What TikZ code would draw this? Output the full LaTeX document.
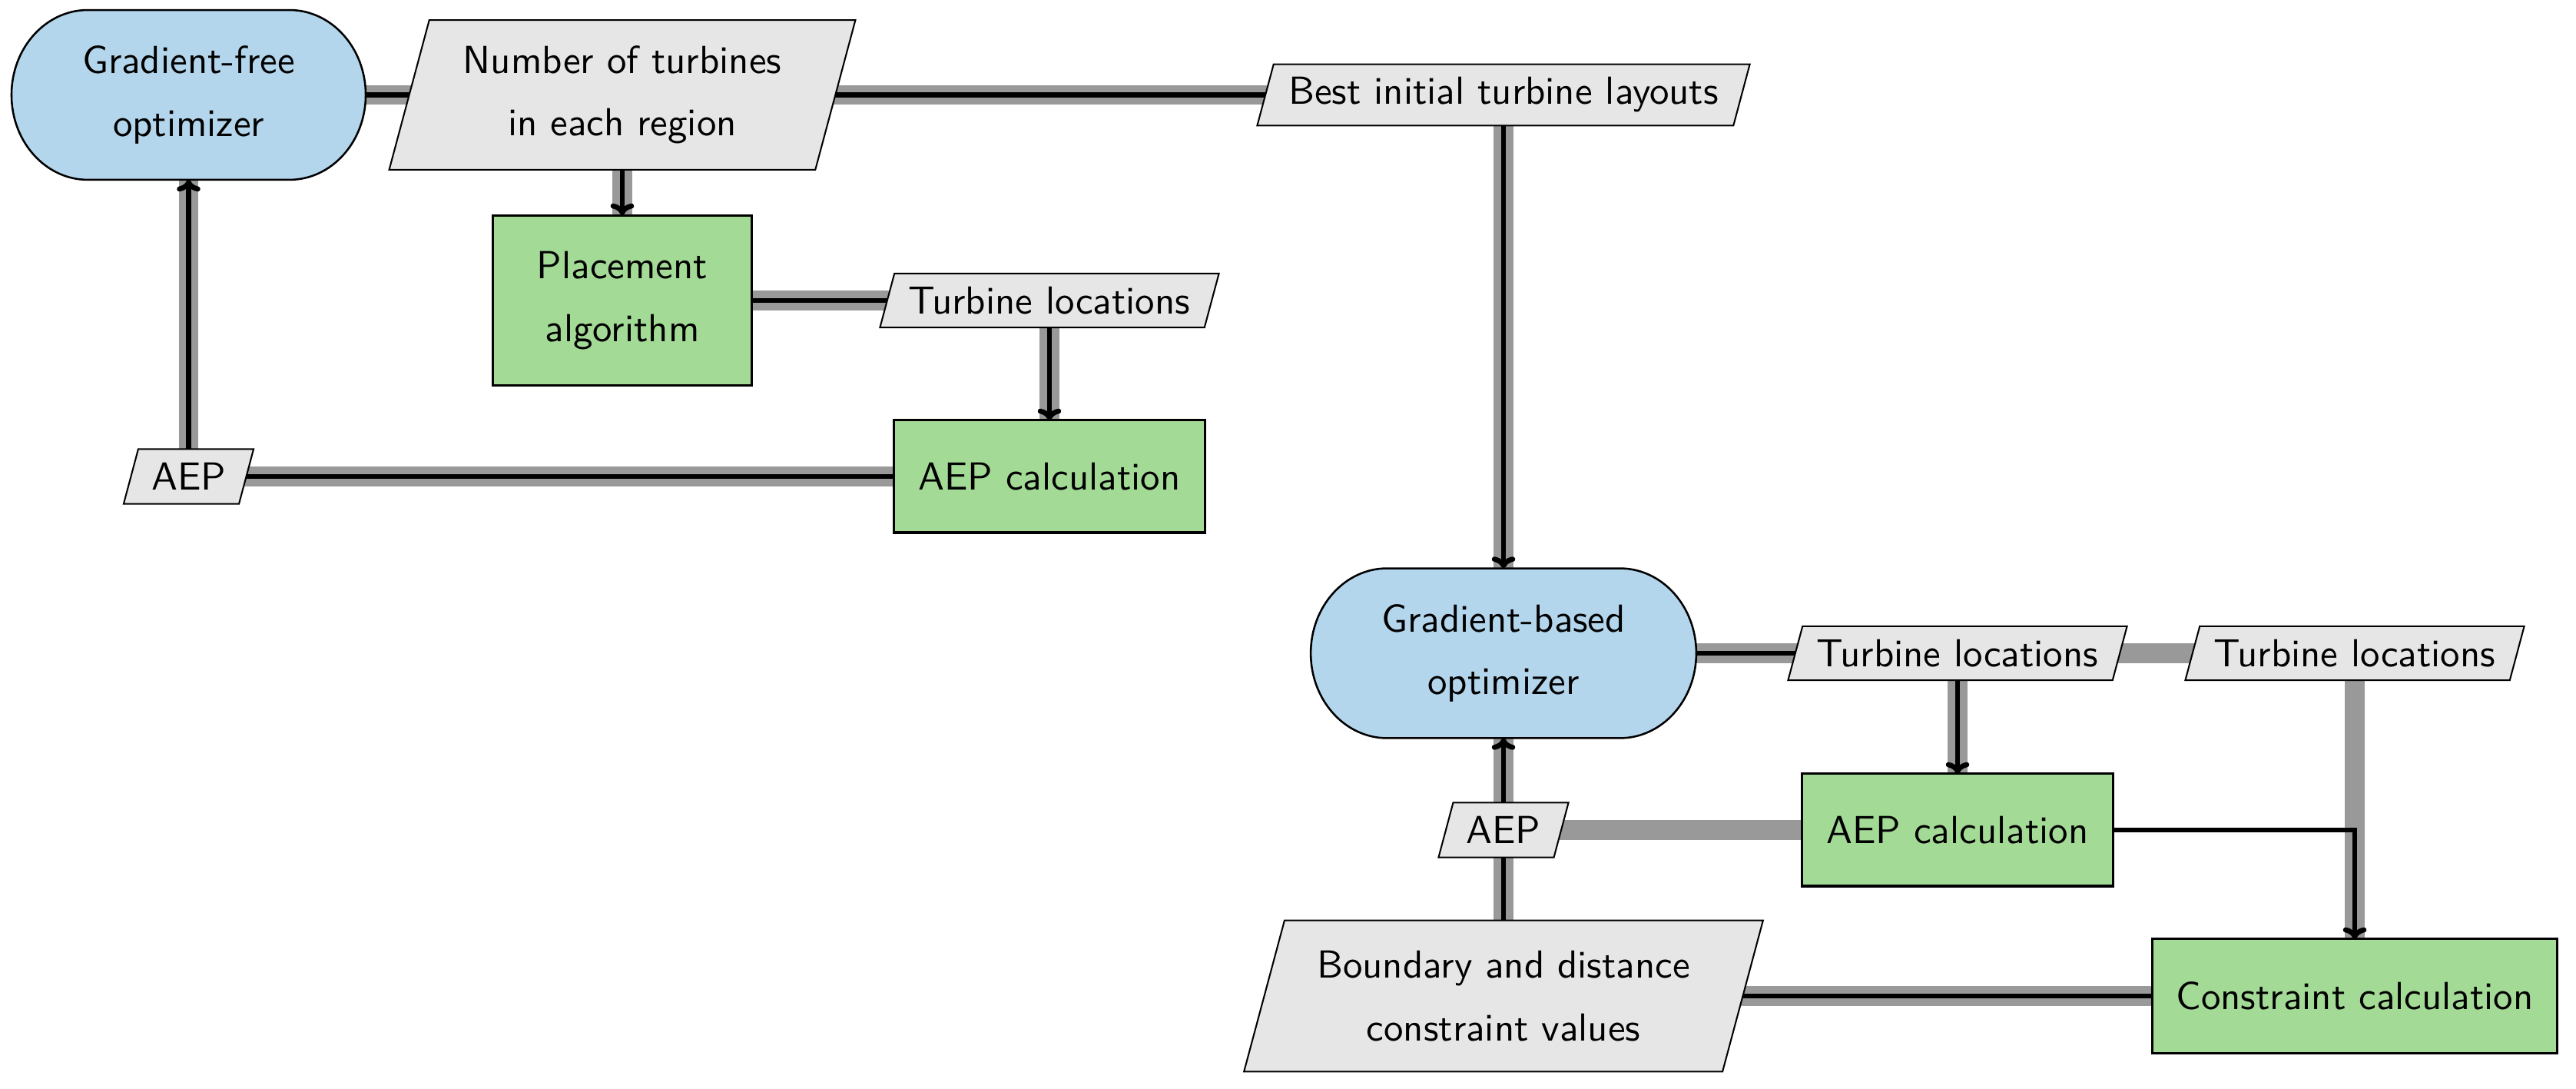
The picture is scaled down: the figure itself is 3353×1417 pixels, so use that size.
\documentclass[tikz,border=0pt]{standalone}
\usetikzlibrary{arrows.meta,calc}
\definecolor{optblue}{RGB}{179,214,236}
\definecolor{fungreen}{RGB}{163,218,150}
\definecolor{datagray}{RGB}{230,230,230}
\definecolor{linegray}{RGB}{153,153,153}
\pgfdeclarelayer{bg}
\pgfdeclarelayer{mid}
\pgfsetlayers{bg,mid,main}
\tikzset{
  funbox/.style={rectangle, draw, line width=0.6pt, fill=fungreen, inner sep=0pt, outer sep=0pt, align=center, font=\sffamily},
  txtbox/.style={rectangle, inner sep=0pt, outer sep=0pt, align=center, font=\sffamily},
  dline/.style={line width=5pt, draw=linegray},
  pline/.style={line width=1.3pt, draw=black},
  parr/.style={pline, -{To[length=3pt,width=6pt]}}
}
\newcommand\optshape[2]{%
  \draw[line width=0.5pt, fill=optblue] ([xshift=#2]#1.north west) -- ([xshift=-#2]#1.north east)
    arc[start angle=90,end angle=-90,x radius=#2,y radius=21.7pt] -- ([xshift=#2]#1.south west)
    arc[start angle=270,end angle=90,x radius=#2,y radius=21.7pt] -- cycle;}
\newcommand\paral[2]{%
  \draw[line width=0.4pt, fill=datagray] ([xshift=-#2]#1.south west) -- ([xshift=#2]#1.north west)
    -- ([xshift=#2]#1.north east) -- ([xshift=-#2]#1.south east) -- cycle;}
\begin{document}
\begin{tikzpicture}[x=0.1965pt,y=-0.1965pt]
\useasboundingbox (0,0) rectangle (3353,1417);
% nodes
\node[txtbox, minimum width=90.6pt, minimum height=43.4pt] (gfopt) at (245.5,123.5) {Gradient-free\\[4pt]optimizer};
\node[txtbox, minimum width=109pt, minimum height=38.3pt] (num) at (810,123.5) {Number of turbines\\[4pt]in each region};
\node[txtbox, minimum width=121.8pt, minimum height=15.7pt] (best) at (1957,123.5) {Best initial turbine layouts};
\node[funbox, minimum width=66.4pt, minimum height=43.6pt] (place) at (810,391) {Placement\\[4pt]algorithm};
\node[txtbox, minimum width=83pt, minimum height=13.8pt] (tl1) at (1366,391) {Turbine locations};
\node[funbox, minimum width=79.6pt, minimum height=28.7pt] (aepc1) at (1366,620) {AEP calculation};
\node[txtbox, minimum width=29.5pt, minimum height=14pt] (aep1) at (245.5,620) {AEP};
\node[txtbox, minimum width=98.6pt, minimum height=43.4pt] (gbopt) at (1957,850) {Gradient-based\\[4pt]optimizer};
\node[txtbox, minimum width=83pt, minimum height=13.8pt] (tl2) at (2548,850) {Turbine locations};
\node[txtbox, minimum width=83pt, minimum height=13.8pt] (tl3) at (3065,850) {Turbine locations};
\node[funbox, minimum width=79.6pt, minimum height=28.7pt] (aepc2) at (2548,1080) {AEP calculation};
\node[txtbox, minimum width=29.5pt, minimum height=14pt] (aep2) at (1957,1080) {AEP};
\node[txtbox, minimum width=122.4pt, minimum height=38.7pt] (bound) at (1957,1296) {Boundary and distance\\[4pt]constraint values};
\node[funbox, minimum width=103.4pt, minimum height=29.1pt] (con) at (3065,1296) {Constraint calculation};
% shapes
\begin{pgfonlayer}{mid}
\optshape{gfopt}{19.5pt}
\optshape{gbopt}{19.5pt}
\paral{num}{5.13pt}
\paral{best}{2.1pt}
\paral{tl1}{1.85pt}
\paral{tl2}{1.85pt}
\paral{tl3}{1.85pt}
\paral{aep1}{1.87pt}
\paral{aep2}{1.87pt}
\paral{bound}{5.19pt}
\end{pgfonlayer}
% connectors
\begin{pgfonlayer}{bg}
\draw[dline] (gfopt.center) -- (num.center);
\draw[dline] (num.center) -- (best.center);
\draw[dline] (num.center) -- (place.center);
\draw[dline] (place.center) -- (tl1.center);
\draw[dline] (tl1.center) -- (aepc1.center);
\draw[dline] (aepc1.center) -- (aep1.center);
\draw[dline] (aep1.center) -- (gfopt.center);
\draw[dline] (best.center) -- (gbopt.center);
\draw[dline] (gbopt.center) -- (tl2.center);
\draw[dline] (tl2.center) -- (tl3.center);
\draw[dline] (tl2.center) -- (aepc2.center);
\draw[dline] (tl3.center) -- (con.center);
\draw[dline] (aepc2.center) -- (aep2.center);
\draw[dline] (aep2.center) -- (gbopt.center);
\draw[dline] (bound.center) -- (aep2.center);
\draw[dline] (bound.center) -- (con.center);
\draw[pline] (gfopt) -- (num);
\draw[pline] (num) -- (best);
\draw[parr] (num) -- (place);
\draw[pline] (place) -- (tl1);
\draw[parr] (tl1) -- (aepc1);
\draw[pline] (aepc1) -- (aep1);
\draw[parr] (aep1) -- (gfopt);
\draw[parr] (best) -- (gbopt);
\draw[pline] (gbopt) -- (tl2);
\draw[parr] (tl2) -- (aepc2);
\draw[parr] (aepc2.east) -| (con.north);
\draw[pline] (con) -- (bound);
\draw[parr] (bound) -- (gbopt);
\end{pgfonlayer}
\end{tikzpicture}
\end{document}
